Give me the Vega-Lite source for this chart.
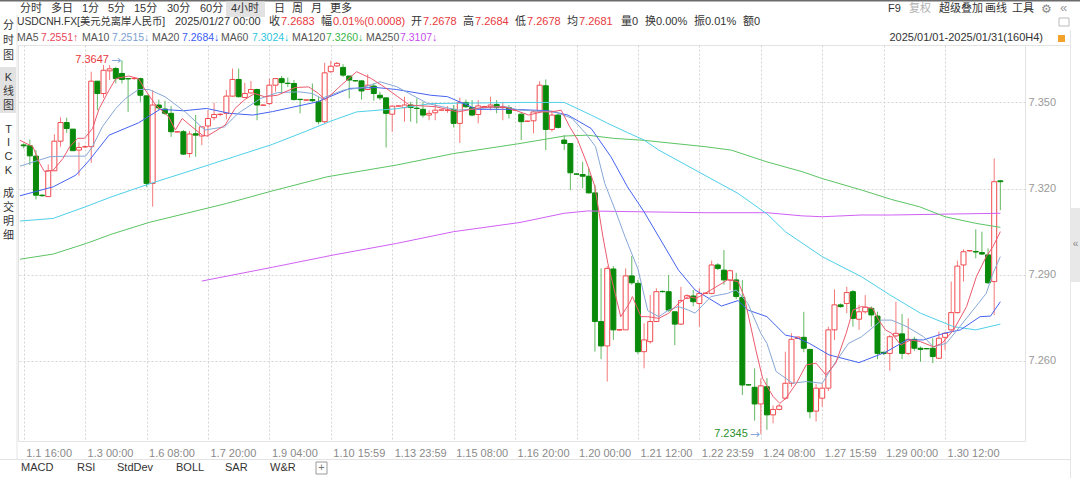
{
"$schema": "https://vega.github.io/schema/vega-lite/v6.json",
"width": 1007, "height": 396,
"autosize": {"type": "none"},
"padding": {"left": 18, "top": 45, "right": 55, "bottom": 37},
"background": "white",
"config": {"view": {"stroke": "#e3e3e3"}, "text": {"font": "Liberation Sans, Noto Sans CJK SC, sans-serif", "fontSize": 11, "align": "left", "baseline": "middle", "color": "#333333"}},
"datasets": {
"candles": [
{"k":0,"o":7.3352,"h":7.3358,"l":7.3340,"c":7.3349},
{"k":1,"o":7.3349,"h":7.3371,"l":7.3282,"c":7.3314},
{"k":2,"o":7.3313,"h":7.3334,"l":7.3162,"c":7.3177},
{"k":3,"o":7.3177,"h":7.3180,"l":7.3172,"c":7.3175},
{"k":4,"o":7.3172,"h":7.3284,"l":7.3172,"c":7.3262},
{"k":5,"o":7.3262,"h":7.3389,"l":7.3262,"c":7.3365},
{"k":6,"o":7.3365,"h":7.3448,"l":7.3346,"c":7.3430},
{"k":7,"o":7.3430,"h":7.3447,"l":7.3394,"c":7.3409},
{"k":8,"o":7.3407,"h":7.3407,"l":7.3332,"c":7.3332},
{"k":9,"o":7.3334,"h":7.3361,"l":7.3245,"c":7.3343},
{"k":10,"o":7.3345,"h":7.3350,"l":7.3342,"c":7.3346},
{"k":11,"o":7.3346,"h":7.3607,"l":7.3290,"c":7.3574},
{"k":12,"o":7.3574,"h":7.3574,"l":7.3473,"c":7.3531},
{"k":13,"o":7.3531,"h":7.3630,"l":7.3516,"c":7.3612},
{"k":14,"o":7.3610,"h":7.3630,"l":7.3578,"c":7.3617},
{"k":15,"o":7.3618,"h":7.3624,"l":7.3566,"c":7.3583},
{"k":16,"o":7.3601,"h":7.3647,"l":7.3566,"c":7.3580},
{"k":17,"o":7.3583,"h":7.3585,"l":7.3467,"c":7.3582},
{"k":18,"o":7.3583,"h":7.3588,"l":7.3578,"c":7.3584},
{"k":19,"o":7.3583,"h":7.3586,"l":7.3502,"c":7.3525},
{"k":20,"o":7.3523,"h":7.3523,"l":7.3206,"c":7.3218},
{"k":21,"o":7.3218,"h":7.3543,"l":7.3137,"c":7.3491},
{"k":22,"o":7.3491,"h":7.3510,"l":7.3473,"c":7.3481},
{"k":23,"o":7.3477,"h":7.3506,"l":7.3456,"c":7.3462},
{"k":24,"o":7.3462,"h":7.3487,"l":7.3380,"c":7.3398},
{"k":25,"o":7.3397,"h":7.3400,"l":7.3395,"c":7.3398},
{"k":26,"o":7.3398,"h":7.3404,"l":7.3317,"c":7.3320},
{"k":27,"o":7.3322,"h":7.3400,"l":7.3308,"c":7.3390},
{"k":28,"o":7.3391,"h":7.3456,"l":7.3311,"c":7.3386},
{"k":29,"o":7.3383,"h":7.3417,"l":7.3351,"c":7.3415},
{"k":30,"o":7.3418,"h":7.3473,"l":7.3380,"c":7.3444},
{"k":31,"o":7.3447,"h":7.3499,"l":7.3438,"c":7.3458},
{"k":32,"o":7.3458,"h":7.3462,"l":7.3452,"c":7.3459},
{"k":33,"o":7.3462,"h":7.3543,"l":7.3441,"c":7.3522},
{"k":34,"o":7.3522,"h":7.3618,"l":7.3520,"c":7.3580},
{"k":35,"o":7.3580,"h":7.3618,"l":7.3517,"c":7.3520},
{"k":36,"o":7.3517,"h":7.3568,"l":7.3516,"c":7.3531},
{"k":37,"o":7.3533,"h":7.3575,"l":7.3531,"c":7.3545},
{"k":38,"o":7.3545,"h":7.3548,"l":7.3438,"c":7.3491},
{"k":39,"o":7.3490,"h":7.3493,"l":7.3488,"c":7.3491},
{"k":40,"o":7.3496,"h":7.3583,"l":7.3491,"c":7.3560},
{"k":41,"o":7.3560,"h":7.3585,"l":7.3537,"c":7.3583},
{"k":42,"o":7.3583,"h":7.3592,"l":7.3531,"c":7.3569},
{"k":43,"o":7.3567,"h":7.3587,"l":7.3554,"c":7.3566},
{"k":44,"o":7.3566,"h":7.3578,"l":7.3506,"c":7.3510},
{"k":45,"o":7.3511,"h":7.3512,"l":7.3462,"c":7.3510},
{"k":46,"o":7.3508,"h":7.3510,"l":7.3506,"c":7.3509},
{"k":47,"o":7.3510,"h":7.3566,"l":7.3502,"c":7.3506},
{"k":48,"o":7.3502,"h":7.3520,"l":7.3424,"c":7.3433},
{"k":49,"o":7.3433,"h":7.3638,"l":7.3426,"c":7.3603},
{"k":50,"o":7.3607,"h":7.3645,"l":7.3603,"c":7.3626},
{"k":51,"o":7.3627,"h":7.3641,"l":7.3624,"c":7.3636},
{"k":52,"o":7.3622,"h":7.3633,"l":7.3589,"c":7.3595},
{"k":53,"o":7.3592,"h":7.3592,"l":7.3514,"c":7.3578},
{"k":54,"o":7.3576,"h":7.3578,"l":7.3572,"c":7.3575},
{"k":55,"o":7.3575,"h":7.3578,"l":7.3510,"c":7.3540},
{"k":56,"o":7.3545,"h":7.3598,"l":7.3543,"c":7.3560},
{"k":57,"o":7.3557,"h":7.3566,"l":7.3506,"c":7.3531},
{"k":58,"o":7.3525,"h":7.3537,"l":7.3508,"c":7.3516},
{"k":59,"o":7.3516,"h":7.3516,"l":7.3343,"c":7.3462},
{"k":60,"o":7.3459,"h":7.3491,"l":7.3398,"c":7.3487},
{"k":61,"o":7.3487,"h":7.3489,"l":7.3485,"c":7.3488},
{"k":62,"o":7.3482,"h":7.3520,"l":7.3433,"c":7.3491},
{"k":63,"o":7.3491,"h":7.3502,"l":7.3433,"c":7.3482},
{"k":64,"o":7.3480,"h":7.3514,"l":7.3427,"c":7.3479},
{"k":65,"o":7.3476,"h":7.3502,"l":7.3447,"c":7.3456},
{"k":66,"o":7.3456,"h":7.3473,"l":7.3438,"c":7.3462},
{"k":67,"o":7.3464,"h":7.3499,"l":7.3438,"c":7.3473},
{"k":68,"o":7.3473,"h":7.3475,"l":7.3471,"c":7.3474},
{"k":69,"o":7.3472,"h":7.3487,"l":7.3464,"c":7.3473},
{"k":70,"o":7.3476,"h":7.3491,"l":7.3413,"c":7.3427},
{"k":71,"o":7.3427,"h":7.3517,"l":7.3359,"c":7.3500},
{"k":72,"o":7.3500,"h":7.3510,"l":7.3482,"c":7.3485},
{"k":73,"o":7.3482,"h":7.3508,"l":7.3452,"c":7.3456},
{"k":74,"o":7.3458,"h":7.3508,"l":7.3427,"c":7.3488},
{"k":75,"o":7.3485,"h":7.3487,"l":7.3483,"c":7.3486},
{"k":76,"o":7.3485,"h":7.3520,"l":7.3473,"c":7.3491},
{"k":77,"o":7.3493,"h":7.3508,"l":7.3462,"c":7.3482},
{"k":78,"o":7.3482,"h":7.3502,"l":7.3438,"c":7.3483},
{"k":79,"o":7.3482,"h":7.3491,"l":7.3444,"c":7.3462},
{"k":80,"o":7.3473,"h":7.3475,"l":7.3470,"c":7.3474},
{"k":81,"o":7.3459,"h":7.3462,"l":7.3369,"c":7.3433},
{"k":82,"o":7.3434,"h":7.3437,"l":7.3432,"c":7.3435},
{"k":83,"o":7.3436,"h":7.3473,"l":7.3392,"c":7.3467},
{"k":84,"o":7.3467,"h":7.3574,"l":7.3467,"c":7.3560},
{"k":85,"o":7.3558,"h":7.3580,"l":7.3334,"c":7.3406},
{"k":86,"o":7.3406,"h":7.3473,"l":7.3398,"c":7.3456},
{"k":87,"o":7.3456,"h":7.3460,"l":7.3409,"c":7.3413},
{"k":88,"o":7.3369,"h":7.3386,"l":7.3334,"c":7.3357},
{"k":89,"o":7.3357,"h":7.3357,"l":7.3195,"c":7.3255},
{"k":90,"o":7.3251,"h":7.3253,"l":7.3248,"c":7.3250},
{"k":91,"o":7.3249,"h":7.3293,"l":7.3201,"c":7.3243},
{"k":92,"o":7.3243,"h":7.3270,"l":7.3183,"c":7.3185},
{"k":93,"o":7.3185,"h":7.3212,"l":7.2632,"c":7.2737},
{"k":94,"o":7.2737,"h":7.2922,"l":7.2606,"c":7.2652},
{"k":95,"o":7.2652,"h":7.2930,"l":7.2528,"c":7.2922},
{"k":96,"o":7.2920,"h":7.2930,"l":7.2673,"c":7.2708},
{"k":97,"o":7.2707,"h":7.2710,"l":7.2705,"c":7.2709},
{"k":98,"o":7.2708,"h":7.2922,"l":7.2708,"c":7.2896},
{"k":99,"o":7.2896,"h":7.2965,"l":7.2865,"c":7.2872},
{"k":100,"o":7.2870,"h":7.2882,"l":7.2624,"c":7.2632},
{"k":101,"o":7.2632,"h":7.2731,"l":7.2574,"c":7.2673},
{"k":102,"o":7.2667,"h":7.2829,"l":7.2660,"c":7.2737},
{"k":103,"o":7.2737,"h":7.2853,"l":7.2737,"c":7.2841},
{"k":104,"o":7.2842,"h":7.2845,"l":7.2838,"c":7.2841},
{"k":105,"o":7.2841,"h":7.2899,"l":7.2771,"c":7.2777},
{"k":106,"o":7.2771,"h":7.2771,"l":7.2655,"c":7.2728},
{"k":107,"o":7.2728,"h":7.2858,"l":7.2725,"c":7.2810},
{"k":108,"o":7.2818,"h":7.2832,"l":7.2815,"c":7.2827},
{"k":109,"o":7.2826,"h":7.2847,"l":7.2790,"c":7.2806},
{"k":110,"o":7.2800,"h":7.2853,"l":7.2719,"c":7.2835},
{"k":111,"o":7.2835,"h":7.2837,"l":7.2833,"c":7.2836},
{"k":112,"o":7.2835,"h":7.2949,"l":7.2832,"c":7.2934},
{"k":113,"o":7.2934,"h":7.2940,"l":7.2916,"c":7.2922},
{"k":114,"o":7.2916,"h":7.2986,"l":7.2865,"c":7.2882},
{"k":115,"o":7.2882,"h":7.2918,"l":7.2847,"c":7.2914},
{"k":116,"o":7.2882,"h":7.2907,"l":7.2815,"c":7.2824},
{"k":117,"o":7.2821,"h":7.2882,"l":7.2481,"c":7.2516},
{"k":118,"o":7.2517,"h":7.2519,"l":7.2514,"c":7.2516},
{"k":119,"o":7.2508,"h":7.2574,"l":7.2392,"c":7.2450},
{"k":120,"o":7.2450,"h":7.2539,"l":7.2345,"c":7.2513},
{"k":121,"o":7.2510,"h":7.2540,"l":7.2360,"c":7.2412},
{"k":122,"o":7.2412,"h":7.2445,"l":7.2383,"c":7.2431},
{"k":123,"o":7.2431,"h":7.2450,"l":7.2428,"c":7.2443},
{"k":124,"o":7.2470,"h":7.2632,"l":7.2465,"c":7.2522},
{"k":125,"o":7.2522,"h":7.2696,"l":7.2510,"c":7.2675},
{"k":126,"o":7.2678,"h":7.2684,"l":7.2678,"c":7.2683},
{"k":127,"o":7.2682,"h":7.2771,"l":7.2630,"c":7.2644},
{"k":128,"o":7.2640,"h":7.2640,"l":7.2400,"c":7.2423},
{"k":129,"o":7.2425,"h":7.2519,"l":7.2389,"c":7.2505},
{"k":130,"o":7.2470,"h":7.2522,"l":7.2440,"c":7.2505},
{"k":131,"o":7.2505,"h":7.2719,"l":7.2495,"c":7.2708},
{"k":132,"o":7.2708,"h":7.2849,"l":7.2673,"c":7.2795},
{"k":133,"o":7.2795,"h":7.2800,"l":7.2785,"c":7.2789},
{"k":134,"o":7.2800,"h":7.2858,"l":7.2766,"c":7.2838},
{"k":135,"o":7.2841,"h":7.2847,"l":7.2719,"c":7.2748},
{"k":136,"o":7.2745,"h":7.2795,"l":7.2708,"c":7.2771},
{"k":137,"o":7.2771,"h":7.2829,"l":7.2765,"c":7.2787},
{"k":138,"o":7.2783,"h":7.2790,"l":7.2719,"c":7.2760},
{"k":139,"o":7.2756,"h":7.2771,"l":7.2606,"c":7.2626},
{"k":140,"o":7.2630,"h":7.2632,"l":7.2620,"c":7.2626},
{"k":141,"o":7.2626,"h":7.2690,"l":7.2566,"c":7.2684},
{"k":142,"o":7.2687,"h":7.2806,"l":7.2682,"c":7.2696},
{"k":143,"o":7.2694,"h":7.2763,"l":7.2606,"c":7.2626},
{"k":144,"o":7.2626,"h":7.2748,"l":7.2620,"c":7.2675},
{"k":145,"o":7.2675,"h":7.2684,"l":7.2635,"c":7.2644},
{"k":146,"o":7.2644,"h":7.2650,"l":7.2597,"c":7.2640},
{"k":147,"o":7.2643,"h":7.2645,"l":7.2640,"c":7.2642},
{"k":148,"o":7.2644,"h":7.2679,"l":7.2592,"c":7.2615},
{"k":149,"o":7.2609,"h":7.2702,"l":7.2606,"c":7.2679},
{"k":150,"o":7.2682,"h":7.2700,"l":7.2638,"c":7.2696},
{"k":151,"o":7.2708,"h":7.2876,"l":7.2705,"c":7.2768},
{"k":152,"o":7.2768,"h":7.2949,"l":7.2765,"c":7.2930},
{"k":153,"o":7.2934,"h":7.2988,"l":7.2876,"c":7.2980},
{"k":154,"o":7.2983,"h":7.2986,"l":7.2981,"c":7.2984},
{"k":155,"o":7.2981,"h":7.3058,"l":7.2957,"c":7.2979},
{"k":156,"o":7.2977,"h":7.3050,"l":7.2970,"c":7.2972},
{"k":157,"o":7.2969,"h":7.2992,"l":7.2868,"c":7.2872},
{"k":158,"o":7.2876,"h":7.3305,"l":7.2760,"c":7.3224},
{"k":159,"o":7.3227,"h":7.3230,"l":7.3125,"c":7.3224}
],
"ma": [
{"s":"MA250","k":29,"v":7.2878},{"s":"MA250","k":40.5,"v":7.2926},{"s":"MA250","k":50.5,"v":7.2969},{"s":"MA250","k":60.7,"v":7.3009},{"s":"MA250","k":70,"v":7.305},{"s":"MA250","k":80.8,"v":7.3082},{"s":"MA250","k":88,"v":7.3114},{"s":"MA250","k":91.8,"v":7.3122},{"s":"MA250","k":101,"v":7.3119},{"s":"MA250","k":110.9,"v":7.3116},{"s":"MA250","k":121,"v":7.3116},{"s":"MA250","k":126.7,"v":7.3105},{"s":"MA250","k":130,"v":7.3102},{"s":"MA250","k":136.4,"v":7.3108},{"s":"MA250","k":141.3,"v":7.3108},{"s":"MA250","k":150,"v":7.3111},{"s":"MA250","k":159,"v":7.3114},
{"s":"MA120","k":-0.6,"v":7.2954},{"s":"MA120","k":4.8,"v":7.2972},{"s":"MA120","k":10.2,"v":7.3009},{"s":"MA120","k":14.4,"v":7.3042},{"s":"MA120","k":20.4,"v":7.3082},{"s":"MA120","k":26.5,"v":7.3114},{"s":"MA120","k":33,"v":7.3148},{"s":"MA120","k":40.5,"v":7.3192},{"s":"MA120","k":49.4,"v":7.3241},{"s":"MA120","k":60.7,"v":7.3282},{"s":"MA120","k":70,"v":7.3322},{"s":"MA120","k":80.8,"v":7.3357},{"s":"MA120","k":88,"v":7.3383},{"s":"MA120","k":91.8,"v":7.3386},{"s":"MA120","k":96,"v":7.3375},{"s":"MA120","k":101,"v":7.3368},{"s":"MA120","k":110.9,"v":7.3346},{"s":"MA120","k":115.2,"v":7.3334},{"s":"MA120","k":121,"v":7.3293},{"s":"MA120","k":126.7,"v":7.3259},{"s":"MA120","k":130,"v":7.3235},{"s":"MA120","k":136.4,"v":7.3195},{"s":"MA120","k":141.3,"v":7.3162},{"s":"MA120","k":145.8,"v":7.3137},{"s":"MA120","k":150,"v":7.3102},{"s":"MA120","k":155,"v":7.3079},{"s":"MA120","k":159,"v":7.3065},
{"s":"MA60","k":-0.6,"v":7.3087},{"s":"MA60","k":4.8,"v":7.3096},{"s":"MA60","k":10.1,"v":7.3137},{"s":"MA60","k":14.4,"v":7.3172},{"s":"MA60","k":20.4,"v":7.3216},{"s":"MA60","k":29.2,"v":7.3276},{"s":"MA60","k":40.5,"v":7.3354},{"s":"MA60","k":46,"v":7.34},{"s":"MA60","k":50,"v":7.3435},{"s":"MA60","k":54.2,"v":7.3467},{"s":"MA60","k":60.7,"v":7.3478},{"s":"MA60","k":66.3,"v":7.3496},{"s":"MA60","k":80.8,"v":7.35},{"s":"MA60","k":88,"v":7.35},{"s":"MA60","k":92.4,"v":7.3456},{"s":"MA60","k":95,"v":7.3428},{"s":"MA60","k":98.3,"v":7.3395},{"s":"MA60","k":101,"v":7.3369},{"s":"MA60","k":103.4,"v":7.3334},{"s":"MA60","k":109.8,"v":7.3259},{"s":"MA60","k":116.3,"v":7.3183},{"s":"MA60","k":121,"v":7.3112},{"s":"MA60","k":124,"v":7.305},{"s":"MA60","k":130,"v":7.2963},{"s":"MA60","k":136.4,"v":7.2893},{"s":"MA60","k":141,"v":7.283},{"s":"MA60","k":146,"v":7.2766},{"s":"MA60","k":151.4,"v":7.2719},{"s":"MA60","k":155,"v":7.2708},{"s":"MA60","k":159,"v":7.2728},
{"s":"MA20","k":-0.6,"v":7.3175},{"s":"MA20","k":4.8,"v":7.3206},{"s":"MA20","k":8.5,"v":7.3247},{"s":"MA20","k":10.7,"v":7.3299},{"s":"MA20","k":13.9,"v":7.3386},{"s":"MA20","k":18.7,"v":7.3429},{"s":"MA20","k":22.2,"v":7.3476},{"s":"MA20","k":26,"v":7.3471},{"s":"MA20","k":29.8,"v":7.3479},{"s":"MA20","k":33.5,"v":7.3462},{"s":"MA20","k":37.3,"v":7.3456},{"s":"MA20","k":40.5,"v":7.3468},{"s":"MA20","k":47.8,"v":7.3502},{"s":"MA20","k":53.1,"v":7.3549},{"s":"MA20","k":57.4,"v":7.3552},{"s":"MA20","k":60.7,"v":7.3545},{"s":"MA20","k":66.3,"v":7.3525},{"s":"MA20","k":69,"v":7.352},{"s":"MA20","k":73.8,"v":7.3476},{"s":"MA20","k":78,"v":7.3476},{"s":"MA20","k":80.8,"v":7.3475},{"s":"MA20","k":85.4,"v":7.3471},{"s":"MA20","k":88.6,"v":7.3456},{"s":"MA20","k":92.4,"v":7.3409},{"s":"MA20","k":95.6,"v":7.3311},{"s":"MA20","k":98.3,"v":7.3206},{"s":"MA20","k":101,"v":7.3119},{"s":"MA20","k":103.4,"v":7.3032},{"s":"MA20","k":106.6,"v":7.2916},{"s":"MA20","k":109.3,"v":7.2847},{"s":"MA20","k":113.6,"v":7.2791},{"s":"MA20","k":116.3,"v":7.281},{"s":"MA20","k":117.9,"v":7.2777},{"s":"MA20","k":121,"v":7.2754},{"s":"MA20","k":124,"v":7.269},{"s":"MA20","k":125.7,"v":7.2682},{"s":"MA20","k":127.9,"v":7.2661},{"s":"MA20","k":131.1,"v":7.2621},{"s":"MA20","k":136,"v":7.2594},{"s":"MA20","k":140.3,"v":7.263},{"s":"MA20","k":143.8,"v":7.2673},{"s":"MA20","k":146.5,"v":7.2673},{"s":"MA20","k":149.8,"v":7.2696},{"s":"MA20","k":152.5,"v":7.2708},{"s":"MA20","k":155.7,"v":7.2754},{"s":"MA20","k":157.4,"v":7.2756},{"s":"MA20","k":159,"v":7.2806},
{"s":"MA10","k":-0.6,"v":7.3278},{"s":"MA10","k":4.3,"v":7.3311},{"s":"MA10","k":7.5,"v":7.3313},{"s":"MA10","k":10.1,"v":7.3313},{"s":"MA10","k":11.2,"v":7.3346},{"s":"MA10","k":12.8,"v":7.3415},{"s":"MA10","k":15,"v":7.3479},{"s":"MA10","k":16.6,"v":7.3514},{"s":"MA10","k":18.7,"v":7.3545},{"s":"MA10","k":20.4,"v":7.3545},{"s":"MA10","k":23,"v":7.352},{"s":"MA10","k":26.3,"v":7.3467},{"s":"MA10","k":29.5,"v":7.3404},{"s":"MA10","k":32.7,"v":7.3415},{"s":"MA10","k":34.9,"v":7.3462},{"s":"MA10","k":38.6,"v":7.3514},{"s":"MA10","k":41.3,"v":7.3534},{"s":"MA10","k":44.8,"v":7.3537},{"s":"MA10","k":47,"v":7.3531},{"s":"MA10","k":48.5,"v":7.3514},{"s":"MA10","k":52.1,"v":7.3543},{"s":"MA10","k":55.3,"v":7.3552},{"s":"MA10","k":58,"v":7.3572},{"s":"MA10","k":60.7,"v":7.3555},{"s":"MA10","k":65.8,"v":7.3496},{"s":"MA10","k":70.7,"v":7.3473},{"s":"MA10","k":74.4,"v":7.3479},{"s":"MA10","k":78.1,"v":7.3487},{"s":"MA10","k":80.8,"v":7.3473},{"s":"MA10","k":86.6,"v":7.3467},{"s":"MA10","k":89.3,"v":7.3444},{"s":"MA10","k":91.5,"v":7.3392},{"s":"MA10","k":93.1,"v":7.3346},{"s":"MA10","k":94.6,"v":7.3218},{"s":"MA10","k":96.3,"v":7.3125},{"s":"MA10","k":97.9,"v":7.3032},{"s":"MA10","k":100,"v":7.292},{"s":"MA10","k":101.6,"v":7.2775},{"s":"MA10","k":103.4,"v":7.2754},{"s":"MA10","k":105,"v":7.2777},{"s":"MA10","k":106.6,"v":7.2789},{"s":"MA10","k":108.2,"v":7.2777},{"s":"MA10","k":109.3,"v":7.2766},{"s":"MA10","k":111.9,"v":7.2824},{"s":"MA10","k":114.6,"v":7.2835},{"s":"MA10","k":116,"v":7.2847},{"s":"MA10","k":117.9,"v":7.28},{"s":"MA10","k":120,"v":7.2696},{"s":"MA10","k":121,"v":7.2661},{"s":"MA10","k":122.5,"v":7.2563},{"s":"MA10","k":125.2,"v":7.2522},{"s":"MA10","k":127.4,"v":7.2528},{"s":"MA10","k":130,"v":7.2522},{"s":"MA10","k":132.2,"v":7.2597},{"s":"MA10","k":134.3,"v":7.2661},{"s":"MA10","k":136.4,"v":7.2684},{"s":"MA10","k":139.7,"v":7.2742},{"s":"MA10","k":141.3,"v":7.2742},{"s":"MA10","k":143.8,"v":7.2719},{"s":"MA10","k":146.5,"v":7.2684},{"s":"MA10","k":148.1,"v":7.2649},{"s":"MA10","k":150.2,"v":7.2661},{"s":"MA10","k":152.4,"v":7.2719},{"s":"MA10","k":155,"v":7.2789},{"s":"MA10","k":156.7,"v":7.2835},{"s":"MA10","k":157.8,"v":7.2905},{"s":"MA10","k":159,"v":7.2963},
{"s":"MA5","k":-0.6,"v":7.3368},{"s":"MA5","k":1.5,"v":7.3346},{"s":"MA5","k":2.6,"v":7.3288},{"s":"MA5","k":3.4,"v":7.3259},{"s":"MA5","k":4.8,"v":7.3264},{"s":"MA5","k":6.4,"v":7.3305},{"s":"MA5","k":7.5,"v":7.3346},{"s":"MA5","k":8.8,"v":7.3375},{"s":"MA5","k":9.9,"v":7.3375},{"s":"MA5","k":11.2,"v":7.3409},{"s":"MA5","k":12.3,"v":7.3479},{"s":"MA5","k":13.9,"v":7.3543},{"s":"MA5","k":15,"v":7.3583},{"s":"MA5","k":17.1,"v":7.3592},{"s":"MA5","k":18.7,"v":7.3583},{"s":"MA5","k":19.8,"v":7.3543},{"s":"MA5","k":21.5,"v":7.3491},{"s":"MA5","k":23.6,"v":7.345},{"s":"MA5","k":24.7,"v":7.3404},{"s":"MA5","k":25.8,"v":7.3444},{"s":"MA5","k":27.4,"v":7.3415},{"s":"MA5","k":29.1,"v":7.3386},{"s":"MA5","k":29.9,"v":7.3383},{"s":"MA5","k":32.8,"v":7.3421},{"s":"MA5","k":34.4,"v":7.3479},{"s":"MA5","k":36,"v":7.351},{"s":"MA5","k":37.6,"v":7.3531},{"s":"MA5","k":39.2,"v":7.352},{"s":"MA5","k":41.3,"v":7.3525},{"s":"MA5","k":44.2,"v":7.3552},{"s":"MA5","k":46.4,"v":7.3554},{"s":"MA5","k":48,"v":7.3531},{"s":"MA5","k":49.1,"v":7.3508},{"s":"MA5","k":51.7,"v":7.356},{"s":"MA5","k":54.2,"v":7.3607},{"s":"MA5","k":56.6,"v":7.3583},{"s":"MA5","k":58.7,"v":7.3554},{"s":"MA5","k":60.9,"v":7.352},{"s":"MA5","k":62.8,"v":7.3491},{"s":"MA5","k":67.1,"v":7.3485},{"s":"MA5","k":70.7,"v":7.3467},{"s":"MA5","k":74.4,"v":7.3482},{"s":"MA5","k":78.1,"v":7.3485},{"s":"MA5","k":80,"v":7.3473},{"s":"MA5","k":82.2,"v":7.3456},{"s":"MA5","k":84.3,"v":7.3467},{"s":"MA5","k":85.9,"v":7.3467},{"s":"MA5","k":87.5,"v":7.3473},{"s":"MA5","k":88.9,"v":7.3415},{"s":"MA5","k":90.2,"v":7.3369},{"s":"MA5","k":91.9,"v":7.3276},{"s":"MA5","k":93,"v":7.3206},{"s":"MA5","k":94.3,"v":7.3032},{"s":"MA5","k":95.1,"v":7.294},{"s":"MA5","k":97.2,"v":7.2754},{"s":"MA5","k":98.6,"v":7.28},{"s":"MA5","k":99.1,"v":7.2824},{"s":"MA5","k":100.5,"v":7.2754},{"s":"MA5","k":101.6,"v":7.2754},{"s":"MA5","k":103.4,"v":7.2748},{"s":"MA5","k":105,"v":7.2766},{"s":"MA5","k":106.6,"v":7.28},{"s":"MA5","k":108.2,"v":7.2824},{"s":"MA5","k":109.5,"v":7.2818},{"s":"MA5","k":111.9,"v":7.2847},{"s":"MA5","k":114.6,"v":7.2882},{"s":"MA5","k":116.3,"v":7.2876},{"s":"MA5","k":117.3,"v":7.2824},{"s":"MA5","k":119.2,"v":7.2638},{"s":"MA5","k":120.3,"v":7.2539},{"s":"MA5","k":122,"v":7.2476},{"s":"MA5","k":123.1,"v":7.2452},{"s":"MA5","k":124.1,"v":7.247},{"s":"MA5","k":125.8,"v":7.2522},{"s":"MA5","k":127.4,"v":7.2586},{"s":"MA5","k":129,"v":7.2592},{"s":"MA5","k":130.6,"v":7.2551},{"s":"MA5","k":132.2,"v":7.2592},{"s":"MA5","k":133.9,"v":7.2696},{"s":"MA5","k":135,"v":7.2777},{"s":"MA5","k":136.4,"v":7.2789},{"s":"MA5","k":138.2,"v":7.2783},{"s":"MA5","k":139.2,"v":7.2742},{"s":"MA5","k":140.3,"v":7.2708},{"s":"MA5","k":141.3,"v":7.2696},{"s":"MA5","k":142.8,"v":7.2655},{"s":"MA5","k":144.4,"v":7.2673},{"s":"MA5","k":146,"v":7.2667},{"s":"MA5","k":148.1,"v":7.2649},{"s":"MA5","k":149.5,"v":7.2661},{"s":"MA5","k":151.4,"v":7.2708},{"s":"MA5","k":153.5,"v":7.2789},{"s":"MA5","k":155.1,"v":7.2893},{"s":"MA5","k":156.7,"v":7.2963},{"s":"MA5","k":157.8,"v":7.2998},{"s":"MA5","k":159,"v":7.305}
],
"ext": [{"k":16,"p":7.3647},{"k":120,"p":7.2345}]
},
"layer": [
{"data":{"values":[{}]},"mark":{"type":"rect","x":-18,"x2":1062,"y":-45,"y2":-43.5,"fill":"#6b6b6b"}},
{"data":{"values":[{}]},"mark":{"type":"rect","x":208,"x2":247,"y":-43.5,"y2":-28,"fill":"#e2e2e2"}},
{"data":{"values":[{}]},"mark":{"type":"rect","x":-18,"x2":-2,"y":22,"y2":68,"fill":"#e2e2e2"}},
{"data":{"values":[{}]},"mark":{"type":"rect","x":-1.5,"x2":-0.5,"y":-30,"y2":414,"fill":"#e6e6e6"}},
{"data":{"values":[{}]},"mark":{"type":"rect","x":1052,"x2":1053,"y":-15,"y2":433,"fill":"#e6e6e6"}},
{"data":{"values":[{}]},"mark":{"type":"rect","x":1053,"x2":1062,"y":163,"y2":237,"fill":"#e8e8e8"}},
{"data":{"values":[{}]},"mark":{"type":"rect","x":-18,"x2":1052,"y":414,"y2":415,"fill":"#e3e3e3"}},
{"data":{"values":[{}]},"mark":{"type":"rect","x":1007,"x2":1052,"y":0,"y2":1,"fill":"#e3e3e3"}},
{"data":{"values":[{}]},"mark":{"type":"rect","x":298,"x2":309,"y":417,"y2":429,"fill":"white","stroke":"#999999","strokeWidth":1}},
{"data":{"values":[{}]},"mark":{"type":"rect","x":1040,"x2":1047,"y":-10,"y2":-3,"fill":"#f2a22a"}},
{"data":{"values":[{}]},"mark":{"type":"rect","x":1041,"x2":1051,"y":-27,"y2":-19,"fill":"white","stroke":"#bbbbbb","strokeWidth":1}},
{"data":{"values":[{}]},"mark":{"type":"text","text":"分时","x":2,"y":-36}},
{"data":{"values":[{}]},"mark":{"type":"text","text":"多日","x":33,"y":-36}},
{"data":{"values":[{}]},"mark":{"type":"text","text":"1分","x":64,"y":-36}},
{"data":{"values":[{}]},"mark":{"type":"text","text":"5分","x":90,"y":-36}},
{"data":{"values":[{}]},"mark":{"type":"text","text":"15分","x":116,"y":-36}},
{"data":{"values":[{}]},"mark":{"type":"text","text":"30分","x":149,"y":-36}},
{"data":{"values":[{}]},"mark":{"type":"text","text":"60分","x":182,"y":-36}},
{"data":{"values":[{}]},"mark":{"type":"text","text":"4小时","x":213,"y":-36}},
{"data":{"values":[{}]},"mark":{"type":"text","text":"日","x":256,"y":-36}},
{"data":{"values":[{}]},"mark":{"type":"text","text":"周","x":274,"y":-36}},
{"data":{"values":[{}]},"mark":{"type":"text","text":"月","x":293,"y":-36}},
{"data":{"values":[{}]},"mark":{"type":"text","text":"更多","x":312,"y":-36}},
{"data":{"values":[{}]},"mark":{"type":"text","text":"F9","x":870,"y":-36}},
{"data":{"values":[{}]},"mark":{"type":"text","text":"复权","x":891,"y":-36,"color":"#b0b0b0"}},
{"data":{"values":[{}]},"mark":{"type":"text","text":"超级叠加","x":921,"y":-36}},
{"data":{"values":[{}]},"mark":{"type":"text","text":"画线","x":967,"y":-36}},
{"data":{"values":[{}]},"mark":{"type":"text","text":"工具","x":994,"y":-36}},
{"data":{"values":[{}]},"mark":{"type":"text","text":"⚙","x":1023,"y":-36,"color":"#888888","font":"DejaVu Sans","fontSize":12}},
{"data":{"values":[{}]},"mark":{"type":"text","text":"«","x":1042,"y":-37,"color":"#999999","fontSize":13}},
{"data":{"values":[{}]},"mark":{"type":"text","text":"USDCNH.FX[美元兑离岸人民币]","x":-1,"y":-23,"fontSize":10.3}},
{"data":{"values":[{}]},"mark":{"type":"text","text":"2025/01/27 00:00","x":157,"y":-23}},
{"data":{"values":[{}]},"mark":{"type":"text","text":"收","x":251,"y":-23}},
{"data":{"values":[{}]},"mark":{"type":"text","text":"7.2683","x":263,"y":-23,"color":"#e8383d"}},
{"data":{"values":[{}]},"mark":{"type":"text","text":"幅","x":303,"y":-23}},
{"data":{"values":[{}]},"mark":{"type":"text","text":"0.01%(0.0008)","x":315,"y":-23,"color":"#e8383d"}},
{"data":{"values":[{}]},"mark":{"type":"text","text":"开","x":393,"y":-23}},
{"data":{"values":[{}]},"mark":{"type":"text","text":"7.2678","x":405,"y":-23,"color":"#e8383d"}},
{"data":{"values":[{}]},"mark":{"type":"text","text":"高","x":445,"y":-23}},
{"data":{"values":[{}]},"mark":{"type":"text","text":"7.2684","x":457,"y":-23,"color":"#e8383d"}},
{"data":{"values":[{}]},"mark":{"type":"text","text":"低","x":497,"y":-23}},
{"data":{"values":[{}]},"mark":{"type":"text","text":"7.2678","x":509,"y":-23,"color":"#e8383d"}},
{"data":{"values":[{}]},"mark":{"type":"text","text":"均","x":549,"y":-23}},
{"data":{"values":[{}]},"mark":{"type":"text","text":"7.2681","x":561,"y":-23,"color":"#e8383d"}},
{"data":{"values":[{}]},"mark":{"type":"text","text":"量0","x":603,"y":-23}},
{"data":{"values":[{}]},"mark":{"type":"text","text":"换0.00%","x":627,"y":-23}},
{"data":{"values":[{}]},"mark":{"type":"text","text":"振0.01%","x":676,"y":-23}},
{"data":{"values":[{}]},"mark":{"type":"text","text":"额0","x":725,"y":-23}},
{"data":{"values":[{}]},"mark":{"type":"text","text":"MA5","x":-1,"y":-7,"color":"#555555","fontSize":10.5}},
{"data":{"values":[{}]},"mark":{"type":"text","text":"7.2551↑","x":23,"y":-7,"color":"#e8435a","fontSize":10.5}},
{"data":{"values":[{}]},"mark":{"type":"text","text":"MA10","x":64,"y":-7,"color":"#555555","fontSize":10.5}},
{"data":{"values":[{}]},"mark":{"type":"text","text":"7.2515↓","x":94,"y":-7,"color":"#7b9fd1","fontSize":10.5}},
{"data":{"values":[{}]},"mark":{"type":"text","text":"MA20","x":134,"y":-7,"color":"#555555","fontSize":10.5}},
{"data":{"values":[{}]},"mark":{"type":"text","text":"7.2684↓","x":164,"y":-7,"color":"#3d5cf5","fontSize":10.5}},
{"data":{"values":[{}]},"mark":{"type":"text","text":"MA60","x":203,"y":-7,"color":"#555555","fontSize":10.5}},
{"data":{"values":[{}]},"mark":{"type":"text","text":"7.3024↓","x":234,"y":-7,"color":"#2ec5e0","fontSize":10.5}},
{"data":{"values":[{}]},"mark":{"type":"text","text":"MA120","x":274,"y":-7,"color":"#555555","fontSize":10.5}},
{"data":{"values":[{}]},"mark":{"type":"text","text":"7.3260↓","x":308,"y":-7,"color":"#39b54a","fontSize":10.5}},
{"data":{"values":[{}]},"mark":{"type":"text","text":"MA250","x":348,"y":-7,"color":"#555555","fontSize":10.5}},
{"data":{"values":[{}]},"mark":{"type":"text","text":"7.3107↓","x":382,"y":-7,"color":"#c54cf0","fontSize":10.5}},
{"data":{"values":[{}]},"mark":{"type":"text","text":"2025/01/01-2025/01/31(160H4)","x":1025,"y":-7,"align":"right"}},
{"data":{"values":[{}]},"mark":{"type":"text","text":"分","x":-9.5,"y":-19,"align":"center"}},
{"data":{"values":[{}]},"mark":{"type":"text","text":"时","x":-9.5,"y":-4,"align":"center"}},
{"data":{"values":[{}]},"mark":{"type":"text","text":"图","x":-9.5,"y":11,"align":"center"}},
{"data":{"values":[{}]},"mark":{"type":"text","text":"K","x":-9.5,"y":33,"align":"center"}},
{"data":{"values":[{}]},"mark":{"type":"text","text":"线","x":-9.5,"y":47,"align":"center"}},
{"data":{"values":[{}]},"mark":{"type":"text","text":"图","x":-9.5,"y":61,"align":"center"}},
{"data":{"values":[{}]},"mark":{"type":"text","text":"T","x":-9.5,"y":85,"align":"center"}},
{"data":{"values":[{}]},"mark":{"type":"text","text":"I","x":-9.5,"y":98,"align":"center"}},
{"data":{"values":[{}]},"mark":{"type":"text","text":"C","x":-9.5,"y":112,"align":"center"}},
{"data":{"values":[{}]},"mark":{"type":"text","text":"K","x":-9.5,"y":126,"align":"center"}},
{"data":{"values":[{}]},"mark":{"type":"text","text":"成","x":-9.5,"y":149,"align":"center"}},
{"data":{"values":[{}]},"mark":{"type":"text","text":"交","x":-9.5,"y":163,"align":"center"}},
{"data":{"values":[{}]},"mark":{"type":"text","text":"明","x":-9.5,"y":177,"align":"center"}},
{"data":{"values":[{}]},"mark":{"type":"text","text":"细","x":-9.5,"y":191,"align":"center"}},
{"data":{"values":[{}]},"mark":{"type":"text","text":"MACD","x":3,"y":423}},
{"data":{"values":[{}]},"mark":{"type":"text","text":"RSI","x":59,"y":423}},
{"data":{"values":[{}]},"mark":{"type":"text","text":"StdDev","x":99,"y":423}},
{"data":{"values":[{}]},"mark":{"type":"text","text":"BOLL","x":158,"y":423}},
{"data":{"values":[{}]},"mark":{"type":"text","text":"SAR","x":207,"y":423}},
{"data":{"values":[{}]},"mark":{"type":"text","text":"W&R","x":252,"y":423}},
{"data":{"values":[{}]},"mark":{"type":"text","text":"+","x":303.5,"y":422.5,"align":"center","color":"#777777"}},
{"data":{"values":[{}]},"mark":{"type":"text","text":"«","x":1057.5,"y":199,"align":"center","color":"#888888","fontSize":10}},
{"data":{"name":"candles"},
 "mark":{"type":"rule","clip":true,"strokeWidth":1},
 "encoding":{
  "x":{"field":"k","type":"quantitative","scale":{"domain":[-0.11,162.2],"nice":false,"zero":false},
   "axis":{"values":[0,10,20,30,40,50,60,70,80,90,100,110,120,130,140,150],"labelExpr":"['1.1 16:00','1.3 00:00','1.6 08:00','1.7 20:00','1.9 04:00','1.10 15:59','1.13 23:59','1.15 08:00','1.16 20:00','1.20 00:00','1.21 12:00','1.22 23:59','1.24 08:00','1.27 15:59','1.29 00:00','1.30 12:00'][round(datum.value/10)]","labelAlign":"left","labelOffset":2,"labelPadding":6,"labelBaseline":"top","ticks":false,"domain":false,"grid":true,"gridColor":"#d4d4d4","gridDash":[2,2],"labelColor":"#8a8a8a","labelFont":"Liberation Sans Narrow, Liberation Sans","labelFontSize":11,"title":null,"labelFlush":false,"labelOverlap":false}},
  "y":{"field":"l","type":"quantitative","scale":{"domain":[7.2321,7.37],"nice":false,"zero":false},
   "axis":{"orient":"right","values":[7.26,7.29,7.32,7.35],"format":".3f","ticks":false,"domain":false,"grid":true,"gridColor":"#d4d4d4","gridDash":[2,2],"labelColor":"#999999","labelFont":"Liberation Sans","labelFontSize":11,"labelPadding":3,"title":null}},
  "y2":{"field":"h"},
  "color":{"condition":{"test":"datum.c >= datum.o","value":"#f47a7a"},"value":"#62b962"}
 }},
{"data":{"name":"candles"},
 "mark":{"type":"bar","clip":true,"width":5,"orient":"vertical","strokeWidth":1},
 "encoding":{
  "x":{"field":"k","type":"quantitative","scale":{"domain":[-0.11,162.2],"nice":false,"zero":false},"axis":{"title":null}},
  "y":{"field":"o","type":"quantitative","scale":{"domain":[7.2321,7.37],"nice":false,"zero":false},"axis":{"orient":"right","title":null}},
  "y2":{"field":"c"},
  "fill":{"condition":{"test":"datum.c >= datum.o","value":"#ffffff"},"value":"#0a8a0a"},
  "stroke":{"condition":{"test":"datum.c >= datum.o","value":"#f04a4f"},"value":"#0a8a0a"}
 }},
{"data":{"name":"ma"},
 "mark":{"type":"line","clip":true,"strokeWidth":1},
 "encoding":{
  "x":{"field":"k","type":"quantitative","scale":{"domain":[-0.11,162.2],"nice":false,"zero":false},"axis":{"title":null}},
  "y":{"field":"v","type":"quantitative","scale":{"domain":[7.2321,7.37],"nice":false,"zero":false},"axis":{"orient":"right","title":null}},
  "color":{"field":"s","type":"nominal","scale":{"domain":["MA5","MA10","MA20","MA60","MA120","MA250"],"range":["#ec5a6e","#86a8d6","#4563f2","#4fd0e8","#5cc464","#d060f5"]},"legend":null}
 }},
{"data":{"name":"ext"},
 "mark":{"type":"text","align":"right","dx":-13,"fontSize":11},
 "encoding":{
  "x":{"field":"k","type":"quantitative","scale":{"domain":[-0.11,162.2],"nice":false,"zero":false},"axis":{"title":null}},
  "y":{"field":"p","type":"quantitative","scale":{"domain":[7.2321,7.37],"nice":false,"zero":false},"axis":{"orient":"right","title":null}},
  "text":{"field":"p","type":"quantitative","format":".4f"},
  "color":{"condition":{"test":"datum.p > 7.3","value":"#e8383d"},"value":"#2e8f2e"}
 }},
{"data":{"name":"ext"},
 "mark":{"type":"text","align":"right","dx":-1,"fontSize":12,"font":"DejaVu Sans","color":"#86a8d6","text":"→"},
 "encoding":{
  "x":{"field":"k","type":"quantitative","scale":{"domain":[-0.11,162.2],"nice":false,"zero":false},"axis":{"title":null}},
  "y":{"field":"p","type":"quantitative","scale":{"domain":[7.2321,7.37],"nice":false,"zero":false},"axis":{"orient":"right","title":null}}
 }}
]
}
